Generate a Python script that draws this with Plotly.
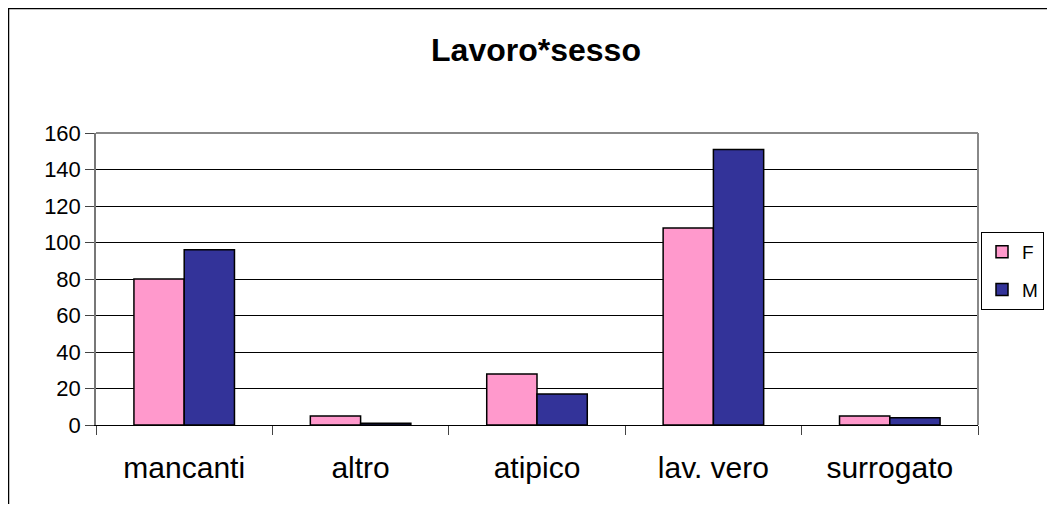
import plotly.graph_objects as go

categories = ["mancanti", "altro", "atipico", "lav. vero", "surrogato"]
f_values = [80, 5, 28, 108, 5]
m_values = [96, 1, 17, 151, 4]
y_ticks = [0, 20, 40, 60, 80, 100, 120, 140, 160]

fig = go.Figure()
fig.add_trace(go.Bar(name="F", x=categories, y=f_values, legendgroup="F",
                     marker=dict(color="#FF99CC", line=dict(color="black", width=1.5))))
fig.add_trace(go.Bar(name="M", x=categories, y=m_values, legendgroup="M",
                     marker=dict(color="#333399", line=dict(color="black", width=1.5))))

# page is offset by 8px body margin
W, H = 1047, 496
L, T = 88, 125
R = W - 970
B = H - 417
pw, ph = W - L - R, H - T - B

fig.update_layout(
    width=W, height=H,
    margin=dict(l=L, r=R, t=T, b=B, pad=0),
    paper_bgcolor="white", plot_bgcolor="white",
    font=dict(family="Liberation Sans, Arial, sans-serif", color="black"),
    barmode="group", bargap=0.43, bargroupgap=0,
    title=dict(text="<b>Lavoro*sesso</b>", x=528 / W, xanchor="center",
               y=1 - 42 / H, yanchor="middle", font=dict(size=32, color="black")),
    showlegend=True,
    legend=dict(xref="container", yref="container",
                x=973 / W, xanchor="left", y=1 - 224 / H, yanchor="top",
                bordercolor="black", borderwidth=1, bgcolor="white",
                font=dict(size=19), traceorder="grouped", tracegroupgap=10,
                itemwidth=30),
    xaxis=dict(showline=True, linecolor="black", linewidth=1, mirror=False,
               ticks="outside", tickson="boundaries", ticklen=9, tickcolor="#444",
               tickfont=dict(size=30), showgrid=False, ticklabelstandoff=16,
               automargin=False),
    yaxis=dict(range=[0, 160], tickvals=y_ticks, showline=True, linecolor="#777",
               linewidth=1.5, ticks="outside", ticklen=9, tickcolor="#444",
               showgrid=True, gridcolor="black", gridwidth=1,
               tickfont=dict(size=22), zeroline=False, automargin=False),
)

# plot-area border (top and right lines, grey)
fig.add_shape(type="line", xref="paper", yref="paper", x0=0, x1=1, y0=1, y1=1,
              line=dict(color="#888", width=2))
fig.add_shape(type="line", xref="paper", yref="paper", x0=1, x1=1, y0=0, y1=1,
              line=dict(color="#888", width=2))
# outer chart border
fig.add_shape(type="rect", xref="paper", yref="paper",
              x0=(0.5 - L) / pw, x1=(1100 - L) / pw,
              y0=-(600 - 417) / ph, y1=(417 - 0.5) / ph,
              line=dict(color="black", width=1.5), layer="below")

fig.write_html("out.html")
